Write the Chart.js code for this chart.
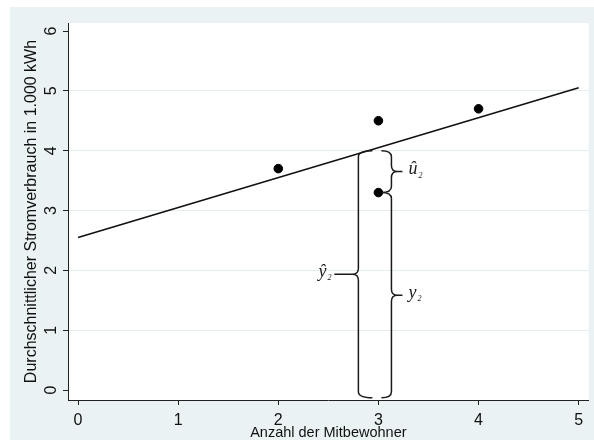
<!DOCTYPE html>
<html>
<head>
<meta charset="utf-8">
<script src="https://cdn.jsdelivr.net/npm/chart.js@4/dist/chart.umd.min.js"></script>
<style>
  html, body { margin: 0; padding: 0; background: #fff; }
  #wrap { width: 594px; height: 444px; }
</style>
</head>
<body>
<div id="wrap"><canvas id="chart" width="594" height="444"></canvas></div>
<script>
'use strict';

// observations: household size vs. electricity use
const memberCounts = [2, 3, 3, 4];
const consumption = [3.7, 4.5, 3.3, 4.7];

// fitted regression line, read at both ends
const fitX = [0, 5];
const fitY = [2.55, 5.05];

// tick labels
const xTicks = [0, 1, 2, 3, 4, 5];
const yTicks = [0, 1, 2, 3, 4, 5, 6];

// curly braces: x position, span from/to (data units), side of the tip, label
const braceX = [2.8, 3.13, 3.13];
const braceFrom = [-0.13, -0.13, 3.3];
const braceTo = [4.0, 3.3, 4.0];
const braceSide = ['left', 'right', 'right'];
const braceLabels = ['\u0177', 'y', '\u00fb'];

const bg = '#eaf2f3';
const ink = '#111';

const backdrop = {
  id: 'backdrop',
  beforeDraw(chart) {
    const ctx = chart.ctx;
    const a = chart.chartArea;
    ctx.save();
    ctx.fillStyle = '#fff';
    ctx.fillRect(0, 0, chart.width, chart.height);
    ctx.fillStyle = bg;
    ctx.fillRect(10, 7, chart.width - 10, 433);
    ctx.fillStyle = '#fff';
    ctx.fillRect(a.left, a.top, a.right - a.left, a.bottom - a.top);
    ctx.restore();
  }
};

function drawBrace(ctx, x, yTop, yBot, dir, tip, hx) {
  const ym = (yTop + yBot) / 2;
  const cv = 6;
  ctx.beginPath();
  ctx.moveTo(x - dir * hx, yTop);
  ctx.quadraticCurveTo(x, yTop, x, yTop + cv);
  ctx.lineTo(x, ym - cv);
  ctx.quadraticCurveTo(x, ym, x + dir * 6, ym);
  ctx.lineTo(x + dir * tip, ym);
  ctx.moveTo(x + dir * 6, ym);
  ctx.quadraticCurveTo(x, ym, x, ym + cv);
  ctx.lineTo(x, yBot - cv);
  ctx.quadraticCurveTo(x, yBot, x - dir * hx, yBot);
  ctx.stroke();
}

const braces = {
  id: 'braces',
  afterDatasetsDraw(chart) {
    const ctx = chart.ctx;
    const xs = chart.scales.x;
    const ys = chart.scales.y;
    ctx.save();
    ctx.strokeStyle = '#1a1a1a';
    ctx.lineWidth = 1.5;
    ctx.fillStyle = '#1a1a1a';
    braceX.forEach((bx, i) => {
      const px = xs.getPixelForValue(bx);
      const top = ys.getPixelForValue(braceTo[i]);
      const bot = ys.getPixelForValue(braceFrom[i]);
      const dir = braceSide[i] === 'left' ? -1 : 1;
      const tip = dir < 0 ? 24 : 11;
      const hx = dir < 0 ? 14 : 10;
      drawBrace(ctx, px, top, bot, dir, tip, hx);

      const ym = (top + bot) / 2;
      ctx.font = 'italic 18px "Liberation Serif"';
      const mainW = ctx.measureText(braceLabels[i]).width;
      ctx.font = 'italic 8px "Liberation Serif"';
      const subW = ctx.measureText('2').width;
      let lx = dir < 0 ? px - tip - 3 - mainW - subW - 1 : px + tip + 6;
      ctx.textBaseline = 'middle';
      ctx.textAlign = 'left';
      ctx.font = 'italic 18px "Liberation Serif"';
      ctx.fillText(braceLabels[i], lx, ym - 2);
      ctx.font = 'italic 8px "Liberation Serif"';
      ctx.fillText('2', lx + mainW + 1, ym + 4);
    });
    ctx.restore();
  }
};

const tickFont = { family: '"Liberation Sans", Arial, sans-serif', size: 16 };

new Chart(document.getElementById('chart'), {
  type: 'scatter',
  data: {
    datasets: [
      {
        type: 'line',
        data: fitX.map((x, i) => ({ x: x, y: fitY[i] })),
        borderColor: '#111',
        borderWidth: 1.6,
        pointRadius: 0,
        fill: false,
        order: 2
      },
      {
        data: memberCounts.map((x, i) => ({ x: x, y: consumption[i] })),
        backgroundColor: '#000',
        borderColor: '#000',
        pointRadius: 4.3,
        order: 1
      }
    ]
  },
  options: {
    responsive: false,
    animation: false,
    layout: { padding: { left: 10, top: 23, right: 4, bottom: 4 } },
    plugins: {
      legend: { display: false },
      tooltip: { enabled: false }
    },
    scales: {
      x: {
        type: 'linear',
        min: -0.1,
        max: 5.1,
        afterBuildTicks: (scale) => { scale.ticks = xTicks.map(v => ({ value: v })); },
        afterFit: (scale) => { scale.height = 40; },
        grid: { drawOnChartArea: false, drawTicks: true, tickLength: 5, tickColor: '#222' },
        border: { display: true, color: '#222', width: 1 },
        ticks: { font: tickFont, color: ink, padding: 6, maxRotation: 0 },
        title: {
          display: true,
          text: 'Anzahl der Mitbewohner',
          font: { family: '"Liberation Sans", Arial, sans-serif', size: 14.5, lineHeight: 1 },
          color: ink,
          padding: { top: 0, bottom: 0 }
        }
      },
      y: {
        type: 'linear',
        min: -0.167,
        max: 6.134,
        afterBuildTicks: (scale) => { scale.ticks = yTicks.map(v => ({ value: v })); },
        afterFit: (scale) => { scale.width = 58; },
        grid: {
          color: (c) => (c.tick && (c.tick.value === 0 || c.tick.value === 6)) ? 'rgba(0,0,0,0)' : '#e3ecee',
          lineWidth: 1,
          tickLength: 5,
          tickColor: '#222'
        },
        border: { display: true, color: '#222', width: 1 },
        ticks: {
          font: tickFont,
          color: ink,
          minRotation: 90,
          maxRotation: 90,
          crossAlign: 'center',
          padding: 7
        },
        title: {
          display: true,
          text: 'Durchschnittlicher Stromverbrauch in 1.000 kWh',
          font: { family: '"Liberation Sans", Arial, sans-serif', size: 16, lineHeight: 1 },
          color: ink,
          padding: { top: 14, bottom: 0 }
        }
      }
    }
  },
  plugins: [backdrop, braces]
});
</script>
</body>
</html>
